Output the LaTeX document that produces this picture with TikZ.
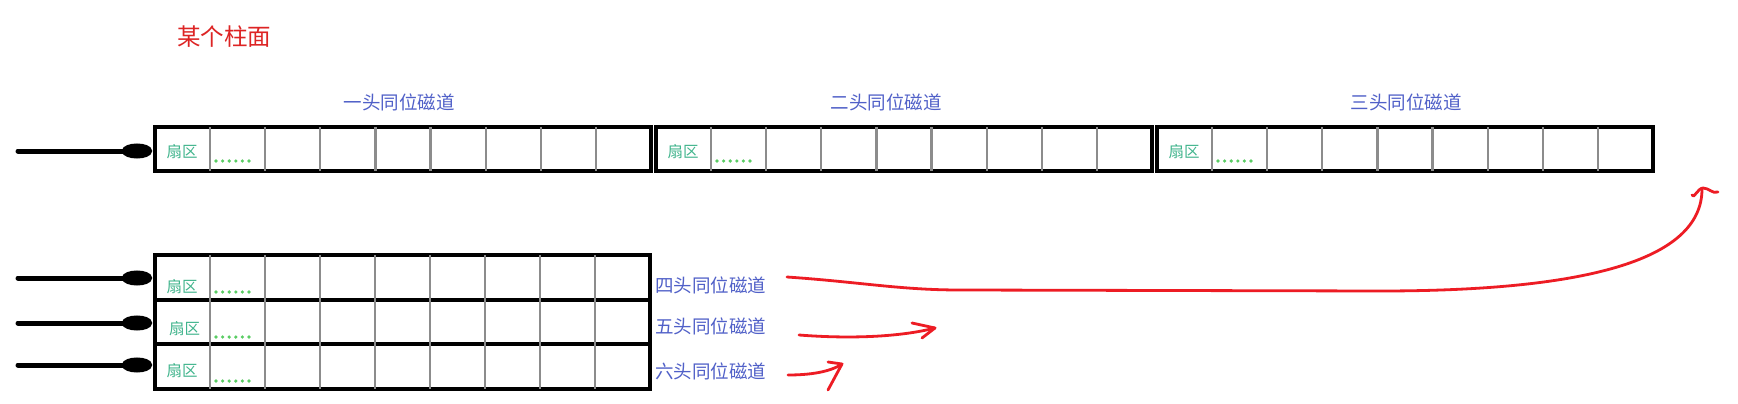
\documentclass[tikz,border=0pt]{standalone}
\usepackage{fontspec}
\newfontfamily\cjk{Noto Sans CJK SC}
\usetikzlibrary{arrows.meta}
\definecolor{titlered}{RGB}{221,36,36}
\definecolor{labelblue}{RGB}{80,96,200}
\definecolor{sectgreen}{RGB}{64,180,140}
\definecolor{dotgreen}{RGB}{90,205,100}
\definecolor{cellgray}{RGB}{140,140,140}
\definecolor{curvered}{RGB}{237,28,36}

\begin{document}
\begin{tikzpicture}[x=1pt,y=1pt,yscale=-1,
    frame/.style={line width=3.5},
    cellline/.style={draw=cellgray,line width=2.2},
    rowarrow/.style={line width=5,line cap=round,-{Ellipse[length=30pt,width=15pt]}},
    redline/.style={draw=curvered,line width=2.8,line cap=round,line join=round},
    headtext/.style={font=\cjk\fontsize{18.5}{20}\selectfont,text=labelblue,inner sep=0},
    secttext/.style={font=\cjk\fontsize{15.5}{17}\selectfont,text=sectgreen,inner sep=0}]
\useasboundingbox (0,0) rectangle (1738,404);
\fill[white] (0,0) rectangle (1738,404);

% Text Node
\node[font=\cjk\fontsize{23.5}{26}\selectfont,text=titlered,inner sep=0] (title) at (224,37) {某个柱面};

%Shape: Rectangle -- three tracks of the top row
\foreach \bx/\bn in {155/1,656/2,1157/3}{
    \draw[frame] (\bx,127) rectangle ++(496,44);
    \foreach \k in {1,...,8}
        \draw[cellline] (\bx+\k*55.1,127) -- ++(0,44);
    \node[secttext] (s\bn) at (\bx+27,152) {扇区};
    \foreach \d in {0,...,5}
        \fill[dotgreen] (\bx+61+\d*6.6,161) circle (1.8);
}

% Text Node
\node[headtext] (h1) at (399,102) {一头同位磁道};
% Text Node
\node[headtext] (h2) at (886,102) {二头同位磁道};
% Text Node
\node[headtext] (h3) at (1406,102) {三头同位磁道};

%Shape: Rectangle -- bottom three tracks
\draw[frame] (155,255) rectangle (650,389);
\draw[frame] (155,300) -- (650,300);
\draw[frame] (155,344) -- (650,344);
\foreach \k in {1,...,8}
    \draw[cellline] (155+\k*55,255) -- (155+\k*55,389);
\foreach \sx/\sy/\dy/\bn in {182/287/292/4,184.5/329/337/5,182/371/381/6}{
    \node[secttext] (s\bn) at (\sx,\sy) {扇区};
    \foreach \d in {0,...,5}
        \fill[dotgreen] (216+\d*6.6,\dy) circle (1.8);
}

% Text Node
\node[headtext,anchor=west] (h4) at (655,285) {四头同位磁道};
% Text Node
\node[headtext,anchor=west] (h5) at (655,326) {五头同位磁道};
% Text Node
\node[headtext,anchor=west] (h6) at (655,371) {六头同位磁道};

%Straight Lines -- head arrows
\foreach \ay/\an in {151/1,278/4,323/5,365/6}{
    \coordinate (a\an s) at (18,\ay);
    \coordinate (a\an e) at (152,\ay);
    \draw[rowarrow] (a\an s) -- (a\an e);
}

%Curve Lines
\coordinate (c4s) at (787,277);
\coordinate (c4e) at (1702,189);
\draw[redline] (c4s) .. controls (860,282) and (900,290) .. (960,290) -- (1380,291) .. controls (1580,291) and (1702,262) .. (c4e);
\draw[redline] (1692,195) to[out=75,in=180] (1703,188) to[out=0,in=160] (1718,192);
%Curve Lines
\coordinate (c5s) at (799,335);
\coordinate (c5e) at (935,328);
\draw[redline] (c5s) .. controls (850,339) and (900,337) .. (c5e);
\draw[redline] (912,323) -- (c5e) -- (922,338);
%Curve Lines
\coordinate (c6s) at (788,375);
\coordinate (c6e) at (842,364);
\draw[redline] (c6s) .. controls (810,375) and (830,372) .. (c6e);
\draw[redline] (828,362) -- (c6e) -- (828,390);

\end{tikzpicture}
\end{document}
